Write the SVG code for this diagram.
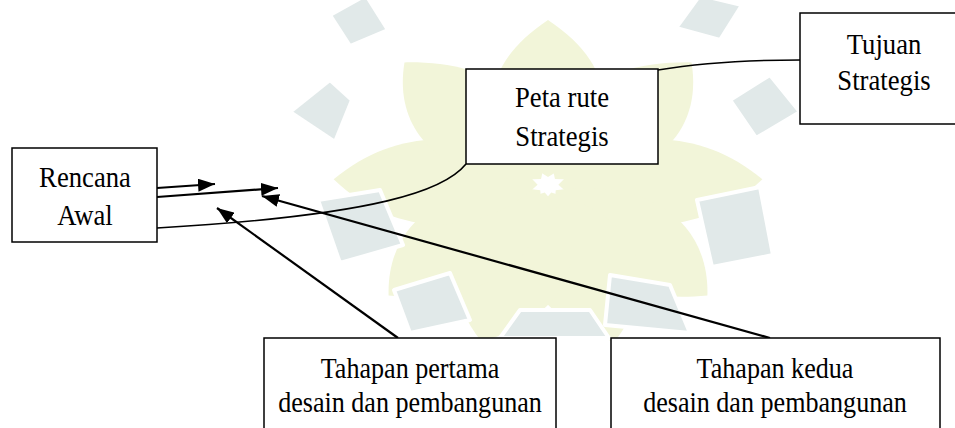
<svg xmlns="http://www.w3.org/2000/svg" width="955" height="428" viewBox="0 0 955 428">
  <defs>
    <style>
      .box { fill: #ffffff; stroke: #000000; stroke-width: 1.5; }
      .lbl { font-family: "Liberation Serif", "Times New Roman", serif; font-size: 29px; fill: #000000; text-anchor: middle; }
      .conn { fill: none; stroke: #000000; stroke-width: 1.6; }
      .arr { fill: none; stroke: #000000; stroke-width: 2.2; marker-end: url(#head); }
      .wy { fill: #f2f5d9; }
      .wg { fill: #e1e9e9; stroke: #ffffff; stroke-width: 4; stroke-linejoin: round; }
    </style>
    <marker id="head" viewBox="0 0 17 13" refX="17" refY="6.5" markerWidth="17" markerHeight="13" markerUnits="userSpaceOnUse" orient="auto">
      <path d="M0,0 L17,6.5 L0,13 Z" fill="#000000"/>
    </marker>
    <path id="petal" d="M0,-8 C55,-50 58,-115 0,-165 C-58,-115 -55,-50 0,-8 Z"/>
  </defs>

  <rect width="955" height="428" fill="#ffffff"/>

  <g id="watermark">
    <g class="wy" transform="translate(548,185) scale(1.3,1.0)">
      <use href="#petal" transform="rotate(0)"/>
      <use href="#petal" transform="rotate(42)"/>
      <use href="#petal" transform="rotate(88)"/>
      <use href="#petal" transform="rotate(132)"/>
      <use href="#petal" transform="rotate(162)"/>
      <use href="#petal" transform="rotate(198)"/>
      <use href="#petal" transform="rotate(228)"/>
      <use href="#petal" transform="rotate(272)"/>
      <use href="#petal" transform="rotate(318)"/>
    </g>
    <g class="wg">
      <polygon points="330,15 366,-5 388,30 350,46"/>
      <polygon points="676,28 700,-5 742,5 720,40"/>
      <polygon points="290,112 330,80 352,100 335,142"/>
      <polygon points="730,100 770,75 800,112 756,138"/>
      <polygon points="318,200 380,190 403,245 340,263"/>
      <polygon points="697,200 760,187 773,255 712,267"/>
      <polygon points="394,290 450,273 470,320 410,333"/>
      <polygon points="610,275 670,285 690,333 605,325"/>
      <polygon points="500,338 520,310 590,310 609,338"/>
    </g>
  </g>

  <g id="connectors">
    <path class="conn" d="M658,70 C700,63 750,60 800,60"/>
    <path class="conn" d="M466,164 C445,190 380,215 157,228"/>
    <path class="arr" d="M157,188 L215,184"/>
    <path class="arr" d="M157,197 L278,188"/>
    <path class="arr" d="M398,338 L217,208"/>
    <path class="arr" d="M770,338 L262,196"/>
  </g>

  <g id="node-rencana-awal">
    <rect class="box" x="12" y="148" width="145" height="94"/>
    <text class="lbl" transform="translate(85,187) scale(0.92,1)">Rencana</text>
    <text class="lbl" transform="translate(85,225) scale(0.92,1)">Awal</text>
  </g>

  <g id="node-peta-rute">
    <rect class="box" x="466" y="69" width="192" height="95"/>
    <text class="lbl" transform="translate(562,107) scale(0.92,1)">Peta rute</text>
    <text class="lbl" transform="translate(562,146) scale(0.92,1)">Strategis</text>
  </g>

  <g id="node-tujuan">
    <rect class="box" x="800" y="13" width="170" height="111"/>
    <text class="lbl" transform="translate(884,54) scale(0.92,1)">Tujuan</text>
    <text class="lbl" transform="translate(884,90) scale(0.92,1)">Strategis</text>
  </g>

  <g id="node-tahapan-pertama">
    <rect class="box" x="264" y="338" width="292" height="110"/>
    <text class="lbl" transform="translate(410,378) scale(0.9,1)">Tahapan pertama</text>
    <text class="lbl" transform="translate(410,412) scale(0.9,1)">desain dan pembangunan</text>
  </g>

  <g id="node-tahapan-kedua">
    <rect class="box" x="611" y="338" width="329" height="110"/>
    <text class="lbl" transform="translate(775,378) scale(0.9,1)">Tahapan kedua</text>
    <text class="lbl" transform="translate(775,412) scale(0.9,1)">desain dan pembangunan</text>
  </g>
</svg>
